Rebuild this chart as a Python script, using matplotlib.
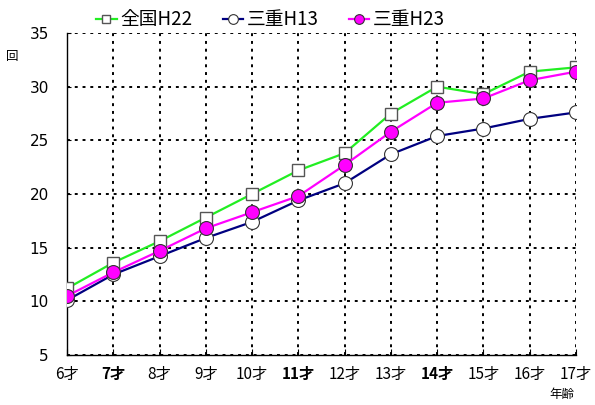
import matplotlib
matplotlib.use('Agg')
import matplotlib.pyplot as plt

plt.rcParams['font.family'] = ['Noto Sans CJK JP', 'DejaVu Sans']

ages = [6, 7, 8, 9, 10, 11, 12, 13, 14, 15, 16, 17]
age_labels = [str(a) + '才' for a in ages]

zenkoku_h22 = [11.2, 13.6, 15.6, 17.8, 20.0, 22.2, 23.8, 27.5, 30.0, 29.3, 31.4, 31.8]
mie_h13 = [10.1, 12.5, 14.2, 15.9, 17.4, 19.4, 21.0, 23.7, 25.4, 26.1, 27.0, 27.6]
mie_h23 = [10.5, 12.7, 14.7, 16.8, 18.3, 19.8, 22.7, 25.8, 28.5, 28.9, 30.6, 31.4]

fig = plt.figure(figsize=(5.95, 4.05), dpi=100)
ax = fig.add_axes([0.1126, 0.1235, 0.8554, 0.795])

ax.plot(ages, zenkoku_h22, color='#22ee22', lw=1.6, marker='s', ms=9,
        mfc='white', mec='#555555', mew=1.0, label='全国H22', zorder=3)
ax.plot(ages, mie_h13, color='#000080', lw=1.6, marker='o', ms=10,
        mfc='white', mec='#333333', mew=0.8, label='三重H13', zorder=3)
ax.plot(ages, mie_h23, color='#ff00ff', lw=1.6, marker='o', ms=10,
        mfc='#ff00ff', mec='#333333', mew=0.8, label='三重H23', zorder=4)

ax.set_xlim(6, 17)
ax.set_ylim(5, 35)
ax.set_xticks(ages)
ax.set_xticklabels(age_labels, fontsize=11)
for i, t in enumerate(ax.get_xticklabels()):
    if ages[i] in (7, 11, 14):
        t.set_fontweight('bold')
ax.set_yticks(range(5, 36, 5))
ax.tick_params(axis='y', labelsize=11, pad=13, length=3, direction='in')
ax.tick_params(axis='x', pad=8, length=4, direction='in')
for t in ax.get_yticklabels():
    t.set_family('DejaVu Sans')

ax.grid(True, color='black', linestyle=(0, (1.5, 2.5)), lw=1.4)
ax.spines['top'].set_visible(False)
ax.spines['right'].set_visible(False)
ax.spines['left'].set_linewidth(1.0)
ax.spines['bottom'].set_linewidth(1.0)

fig.text(0.02, 0.86, '回', fontsize=9, ha='center', va='center')
fig.text(0.945, 0.025, '年齢', fontsize=9, ha='center', va='center')

ax.legend(loc='lower center', bbox_to_anchor=(0.40, 0.985), ncol=3, frameon=False,
          fontsize=13.5, handlelength=1.1, handletextpad=0.2, columnspacing=1.6,
          markerscale=0.7, borderaxespad=0)

fig.savefig('out.png', dpi=100)
